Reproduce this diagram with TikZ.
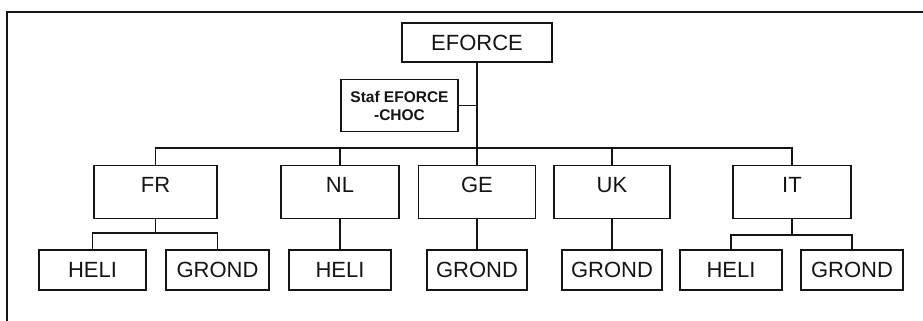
\documentclass[tikz,border=0pt]{standalone}
\usepackage{fontspec}
\setmainfont{Liberation Sans}
\usepackage{xcolor}
\usepackage{tikz}
\usetikzlibrary{positioning,calc}
\definecolor{scanblack}{RGB}{20,20,20}

\begin{document}
\begin{tikzpicture}[x=1pt,y=-1pt,line width=1.6pt,draw=scanblack,
    unit/.style={draw=scanblack,line width=1.6pt,inner sep=0pt,text=scanblack},
    topbox/.style={unit,minimum width=150pt,minimum height=39pt,font=\fontsize{22}{26}\selectfont},
    stafbox/.style={unit,minimum width=117pt,minimum height=52pt,align=center,font=\bfseries\fontsize{15.5}{18}\selectfont},
    nationbox/.style={unit,minimum width=118pt,minimum height=53pt,text height=14pt,text depth=14pt,font=\fontsize{22}{26}\selectfont},
    branchbox/.style={unit,minimum width=103pt,minimum height=40pt,font=\fontsize{22}{26}\selectfont}]
    \useasboundingbox (0,0) rectangle (923,321);
    \draw (7,321) -- (7,12) -- (923,12);
    \node[topbox] (eforce) at (477,42.5) {EFORCE};
    \node[stafbox] (staf) at (399.5,105.5) {Staf EFORCE\\-CHOC};
    \node[nationbox,minimum width=123pt] (fr) at (155.5,192) {FR};
    \node[nationbox] (nl) at (340,192) {NL};
    \node[nationbox,minimum width=117pt] (ge) at (477,192) {GE};
    \node[nationbox,minimum width=116pt] (uk) at (612,192) {UK};
    \node[nationbox] (it) at (792,192) {IT};
    \node[branchbox,minimum width=107pt] (frheli) at (92.5,270) {HELI};
    \node[branchbox] (frgrond) at (217.5,270) {GROND};
    \node[branchbox,minimum width=102pt] (nlheli) at (340,270) {HELI};
    \node[branchbox,minimum width=100pt] (gegrond) at (477,270) {GROND};
    \node[branchbox,minimum width=100pt] (ukgrond) at (612,270) {GROND};
    \node[branchbox,minimum width=102pt] (itheli) at (731,270) {HELI};
    \node[branchbox,minimum width=102pt] (itgrond) at (852,270) {GROND};
    \coordinate (hub) at (477,148);
    \coordinate (frfork) at (155.5,233);
    \coordinate (itfork) at (792,235);
    \draw (eforce.south) -- (hub);
    \draw (staf.east) -- (staf.east -| eforce.south);
    \draw (fr.north) |- (it.north |- hub) -- (it.north);
    \foreach \n in {nl,ge,uk}
        \draw (\n.north) -- (\n.north |- hub);
    \draw (fr.south) -- (frfork);
    \draw (frheli.north) |- (frfork) -| (frgrond.north);
    \draw (it.south) -- (itfork);
    \draw (itheli.north) |- (itfork) -| (itgrond.north);
    \draw (nl.south) -- (nlheli.north);
    \draw (ge.south) -- (gegrond.north);
    \draw (uk.south) -- (ukgrond.north);
\end{tikzpicture}
\end{document}
